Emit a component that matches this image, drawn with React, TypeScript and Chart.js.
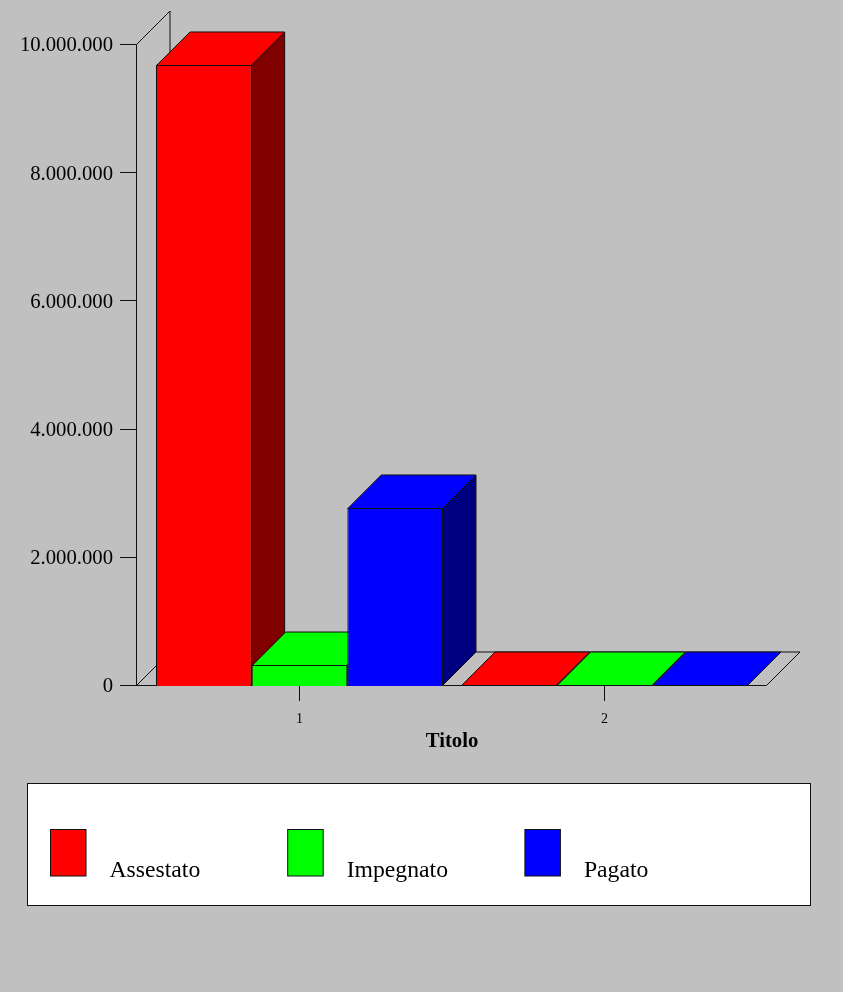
import React, { useEffect, useRef } from "react";
import { Chart, registerables } from "chart.js";

Chart.register(...registerables);

const categories = ["1", "2"];
const seriesNames = ["Assestato", "Impegnato", "Pagato"];
const assestato = [9688000, 0];
const impegnato = [327000, 0];
const pagato = [2777000, 0];
const yTickLabels = ["0", "2.000.000", "4.000.000", "6.000.000", "8.000.000", "10.000.000"];
const faceColors = ["#ff0000", "#00ff00", "#0000ff"];
const sideColors = ["#800000", "#008000", "#000080"];

const SERIF = "'Liberation Serif', serif";
const LINE = "#111111";
const DEPTH = 33.5;
const WALL_X = 136.5;
const FLOOR_RIGHT = 766.5;
const TICK_START = 120;

const scene3d = {
  id: "scene3d",
  beforeDatasetsDraw(chart: any) {
    const { ctx, scales } = chart;
    const y = scales.y;
    const y0 = y.getPixelForValue(0) - 0.5;
    const yTop = y.getPixelForValue(10000000) - 0.5;
    const seg = (pts: number[][]) => {
      ctx.beginPath();
      pts.forEach((p, i) => (i ? ctx.lineTo(p[0], p[1]) : ctx.moveTo(p[0], p[1])));
      ctx.stroke();
    };
    ctx.save();
    ctx.lineWidth = 1;
    ctx.strokeStyle = LINE;
    // wall and floor outline
    seg([[WALL_X, y0], [WALL_X, yTop], [WALL_X + DEPTH, yTop - DEPTH], [WALL_X + DEPTH, y0 - DEPTH], [WALL_X, y0]]);
    seg([[WALL_X + DEPTH, y0 - DEPTH], [FLOOR_RIGHT + DEPTH, y0 - DEPTH], [FLOOR_RIGHT, y0]]);
    seg([[TICK_START, y0], [FLOOR_RIGHT, y0]]);
    y.ticks.forEach((t: any) => {
      const py = Math.round(y.getPixelForValue(t.value)) - 0.5;
      seg([[TICK_START, py], [WALL_X, py]]);
    });
    // depth faces of every bar, painted behind the front faces
    chart.data.datasets.forEach((ds: any, di: number) => {
      const meta = chart.getDatasetMeta(di);
      meta.data.forEach((bar: any) => {
        const l = bar.x - bar.width / 2 + 0.5;
        const r = bar.x + bar.width / 2 - 0.5;
        const t = bar.y + 0.5;
        const b = bar.base - 0.5;
        const top = Math.min(t, b);
        ctx.fillStyle = sideColors[di];
        ctx.beginPath();
        ctx.moveTo(r, top);
        ctx.lineTo(r + DEPTH, top - DEPTH);
        ctx.lineTo(r + DEPTH, b - DEPTH);
        ctx.lineTo(r, b);
        ctx.closePath();
        ctx.fill();
        ctx.stroke();
        ctx.fillStyle = ds.backgroundColor;
        ctx.beginPath();
        ctx.moveTo(l, top);
        ctx.lineTo(l + DEPTH, top - DEPTH);
        ctx.lineTo(r + DEPTH, top - DEPTH);
        ctx.lineTo(r, top);
        ctx.closePath();
        ctx.fill();
        ctx.stroke();
      });
    });
    ctx.restore();
  },
};

const boxLegend = {
  id: "boxLegend",
  afterDraw(chart: any) {
    const { ctx } = chart;
    ctx.save();
    ctx.fillStyle = "#ffffff";
    ctx.strokeStyle = LINE;
    ctx.lineWidth = 1;
    ctx.fillRect(27.5, 783.5, 783, 122);
    ctx.strokeRect(27.5, 783.5, 783, 122);
    ctx.font = `23.7px ${SERIF}`;
    ctx.textBaseline = "alphabetic";
    chart.data.datasets.forEach((ds: any, i: number) => {
      const x = 50.5 + i * 237.2;
      ctx.fillStyle = ds.backgroundColor;
      ctx.fillRect(x, 829.5, 35.5, 46.5);
      ctx.strokeRect(x, 829.5, 35.5, 46.5);
      ctx.fillStyle = "#000000";
      ctx.fillText(ds.label, x + 59, 876.5);
    });
    ctx.restore();
  },
};

export default function App() {
  const ref = useRef<HTMLCanvasElement>(null);
  useEffect(() => {
    document.body.style.margin = "0";
    document.body.style.background = "#c0c0c0";
    const seriesValues = [assestato, impegnato, pagato];
    const chart = new Chart(ref.current!, {
      type: "bar",
      data: {
        labels: categories,
        datasets: seriesNames.map((label, i) => ({
          label,
          data: seriesValues[i],
          backgroundColor: faceColors[i],
          borderColor: LINE,
          borderWidth: 1,
          categoryPercentage: 0.941,
          barPercentage: 1,
        })),
      },
      options: {
        responsive: false,
        animation: false,
        devicePixelRatio: 1,
        layout: { padding: { left: 0, right: 86, top: 45, bottom: 0 } },
        plugins: { legend: { display: false }, title: { display: false }, tooltip: { enabled: false } },
        scales: {
          x: {
            afterFit: (s: any) => { s.height = 306; },
            grid: { offset: false, drawOnChartArea: false, tickLength: 15, color: LINE, lineWidth: 1 },
            border: { display: false },
            ticks: { color: "#000", padding: 10, font: { family: SERIF, size: 14 }, maxRotation: 0 },
            title: {
              display: true,
              text: "Titolo",
              color: "#000",
              font: { family: SERIF, size: 20.7, weight: "bold" },
              padding: { top: 0, bottom: 238 },
            },
          },
          y: {
            min: 0,
            max: 10000000,
            afterFit: (s: any) => { s.width = 147; },
            grid: { display: false },
            border: { display: false },
            ticks: {
              stepSize: 2000000,
              color: "#000",
              padding: 26,
              font: { family: SERIF, size: 20.7, lineHeight: "2px" },
              // the empty first line nudges each label 1px down onto its tick
              callback: (_v: any, i: number) => ["", yTickLabels[i]],
            },
          },
        },
      },
      plugins: [scene3d, boxLegend],
    } as any);
    return () => chart.destroy();
  }, []);
  return (
    <canvas
      ref={ref}
      width={843}
      height={992}
      style={{ position: "absolute", left: 0, top: 0, width: 843, height: 992, background: "#c0c0c0" }}
    />
  );
}
